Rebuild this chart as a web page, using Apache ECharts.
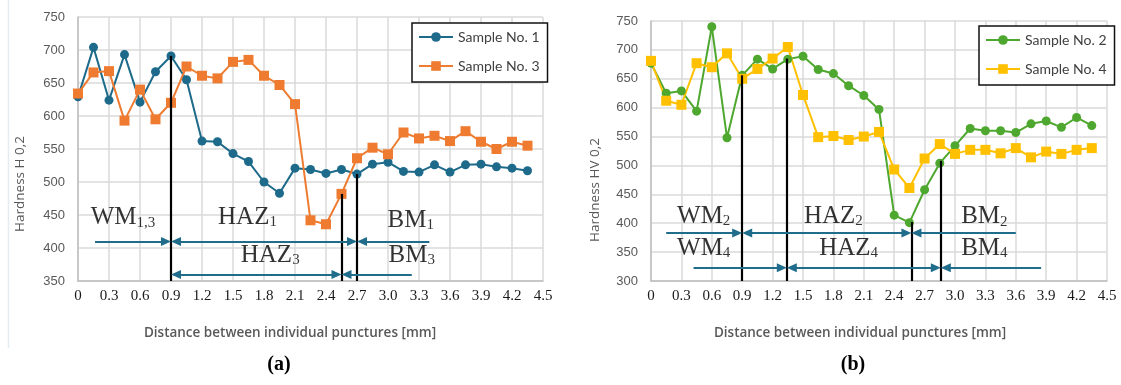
<!DOCTYPE html>
<html>
<head>
<meta charset="utf-8">
<script src="https://cdn.jsdelivr.net/npm/echarts@6/dist/echarts.min.js"></script>
<style>
html,body{margin:0;padding:0;background:#fff;}
#chart{width:1121px;height:385px;}
</style>
</head>
<body>
<div id="chart"></div>
<script>
// ---------- data ----------
const distance = [0,0.15,0.3,0.45,0.6,0.75,0.9,1.05,1.2,1.35,1.5,1.65,1.8,1.95,2.1,2.25,2.4,2.55,2.7,2.85,3.0,3.15,3.3,3.45,3.6,3.75,3.9,4.05,4.2,4.35];
const sample1 = [629,704,624,693,621,667,691,655,562,561,543,531,500,483,521,519,513,519,512,527,530,516,515,526,515,526,527,523,521,517];
const sample3 = [634,666,668,593,640,595,620,675,661,657,682,685,661,647,618,442,436,482,536,552,542,575,566,570,562,577,561,550,561,555];
const sample2 = [677,625,629,594,740,548,656,684,667,684,689,666,659,638,621,597,414,401,458,504,534,564,560,560,557,572,577,566,583,569];
const sample4 = [681,612,605,677,670,694,650,667,685,705,622,549,551,544,550,558,493,461,512,537,520,527,527,521,530,514,524,520,527,530];

const seriesNamesA = ['Sample No. 1','Sample No. 3'];
const seriesNamesB = ['Sample No. 2','Sample No. 4'];
const yTitleA = 'Hardness H 0,2';
const yTitleB = 'Hardness HV 0,2';
const xTitle = 'Distance between individual punctures [mm]';

// zone boundaries: [x, top value]
const boundsA = [[0.9,691],[2.55,482],[2.7,512]];
const boundsB = [[0.9,656],[1.34,685],[2.57,402],[2.86,508]];
// arrows: [x1, x2, y, headAtStart, headAtEnd]
const arrowsA = [[0.165,0.9,410,0,1],[0.9,2.7,410,1,1],[2.7,3.4,410,1,0],[0.9,2.55,360,1,1],[2.55,3.23,360,1,0]];
const arrowsB = [[0.15,0.9,383,0,1],[0.9,2.57,383,1,1],[2.57,3.6,383,1,0],[0.42,1.34,323,0,1],[1.34,2.86,323,1,1],[2.86,3.85,323,1,0]];
// zone labels: [x, y, main, sub]
const zonesA = [[0.435,446,'WM','1,3'],[1.64,447,'HAZ','1'],[1.86,389,'HAZ','3'],[3.22,442,'BM','1'],[3.23,389,'BM','3']];
const zonesB = [[0.52,412,'WM','2'],[0.52,357,'WM','4'],[1.80,412,'HAZ','2'],[1.95,357,'HAZ','4'],[3.29,411,'BM','2'],[3.29,357,'BM','4']];

// ---------- chart ----------
const chart = echarts.init(document.getElementById('chart'), null, {renderer:'canvas'});
const zip = (xs, ys) => xs.map((x,i)=>[x, ys[i]]);
const gridColor = '#dadada';
const arrowColor = '#1f6c8b';
const headLen = 10, headWid = 9;
const grids = [
  {left:78, top:17, width:465, height:264},
  {left:651, top:21, width:456, height:260}
];
const X_MAX = 4.5;

function xAxisCfg(idx){
  return {
    type:'value', gridIndex:idx, min:0, max:X_MAX, interval:0.3,
    axisLine:{show:true, lineStyle:{color:'#bfbfbf', width:1.5}},
    axisTick:{show:false},
    splitLine:{show:true, lineStyle:{color:gridColor, width:1.5}},
    axisLabel:{margin:8, color:'#1a1a1a', fontFamily:'Liberation Serif', fontSize:15,
      formatter:v => (Math.abs(v)<1e-9 ? '0' : (Math.round(v*10)/10).toFixed(1))}
  };
}
function yAxisCfg(idx, min){
  return {
    type:'value', gridIndex:idx, min:min, max:750, interval:50,
    axisLine:{show:true, lineStyle:{color:'#bfbfbf', width:1.5}},
    axisTick:{show:false},
    splitLine:{show:true, lineStyle:{color:gridColor, width:1.5}},
    axisLabel:{margin:13, color:'#595959', fontFamily:'Liberation Sans', fontSize:13}
  };
}
function boundLines(bounds, bottom){
  return bounds.map(b => [
    {coord:[b[0], b[1]], lineStyle:{color:'#000', width:2.2, type:'solid'}},
    {coord:[b[0], bottom]}
  ]);
}
function arrowLines(arrows, idx){
  // arrow symbols are centred on the end point, so pull arrowed ends back by half a head
  const half = (headLen/2) * X_MAX / grids[idx].width;
  return arrows.map(a => {
    const s = a[3] ? a[0] + half : a[0];
    const e = a[4] ? a[1] - half : a[1];
    return [
      {coord:[s,a[2]], symbol: a[3] ? 'triangle':'none', symbolSize:[headWid,headLen],
        lineStyle:{color:arrowColor,width:2,type:'solid'}, itemStyle:{color:arrowColor}},
      {coord:[e,a[2]], symbol: a[4] ? 'triangle':'none', symbolSize:[headWid,headLen]}
    ];
  });
}
function zoneSeries(idx, zones, bounds, arrows, bottom){
  return {
    type:'scatter', xAxisIndex:idx, yAxisIndex:idx, silent:true, symbolSize:0, z:5,
    data: zones.map(z => ({value:[z[0],z[1]], main:z[2], sub:z[3]})),
    label:{show:true, position:'inside',
      formatter: p => '{m|' + p.data.main + '}{s|' + p.data.sub + '}',
      rich:{
        m:{fontFamily:'Liberation Serif', fontSize:25, color:'#000', verticalAlign:'bottom', lineHeight:25},
        s:{fontFamily:'Liberation Serif', fontSize:15, color:'#000', verticalAlign:'bottom', lineHeight:20}
      }},
    markLine:{
      silent:true, symbol:'none', animation:false,
      lineStyle:{type:'solid', color:arrowColor, width:2},
      label:{show:false},
      emphasis:{disabled:true},
      data: boundLines(bounds, bottom).concat(arrowLines(arrows, idx))
    }
  };
}
function lineSeries(name, idx, ys, color, symbol, size){
  return {
    name:name, type:'line', xAxisIndex:idx, yAxisIndex:idx,
    data: zip(distance, ys), symbol:symbol, symbolSize:size, z:3,
    itemStyle:{color:color}, lineStyle:{color:color, width:2}, emphasis:{disabled:true}
  };
}
function legendCfg(names, left, top){
  return {
    data:names, left:left, top:top, orient:'vertical',
    backgroundColor:'#fff', borderColor:'#111', borderWidth:1.5, borderRadius:0,
    padding:[7,8,9,6], itemGap:15, itemWidth:34, itemHeight:12,
    textStyle:{fontFamily:'Lato', fontSize:14, color:'#404040'},
    selectedMode:false
  };
}

const option = {
  animation:false,
  backgroundColor:'#fff',
  grid:grids,
  xAxis:[xAxisCfg(0), xAxisCfg(1)],
  yAxis:[yAxisCfg(0,350), yAxisCfg(1,300)],
  legend:[legendCfg(seriesNamesA, 412, 23), legendCfg(seriesNamesB, 979, 26)],
  series:[
    lineSeries(seriesNamesA[0], 0, sample1, '#1d6a8a', 'circle', 9),
    lineSeries(seriesNamesA[1], 0, sample3, '#ee7b30', 'rect', 10),
    lineSeries(seriesNamesB[0], 1, sample2, '#4ea72e', 'circle', 9),
    lineSeries(seriesNamesB[1], 1, sample4, '#ffc000', 'rect', 10),
    zoneSeries(0, zonesA, boundsA, arrowsA, 350),
    zoneSeries(1, zonesB, boundsB, arrowsB, 300)
  ],
  graphic:[
    {type:'line', shape:{x1:8.5,y1:0,x2:8.5,y2:348}, style:{stroke:'#e4edf3', lineWidth:1.5}, silent:true},
    {type:'text', x:20, y:184, rotation:Math.PI/2, style:{text:yTitleA, fill:'#595959', font:'13.5px "Open Sans"', textAlign:'center', textVerticalAlign:'middle'}},
    {type:'text', x:595, y:190, rotation:Math.PI/2, style:{text:yTitleB, fill:'#595959', font:'13.5px "Open Sans"', textAlign:'center', textVerticalAlign:'middle'}},
    {type:'text', x:290, y:333, style:{text:xTitle, fill:'#595959', font:'600 13.5px "Open Sans"', textAlign:'center', textVerticalAlign:'middle'}},
    {type:'text', x:860, y:333, style:{text:xTitle, fill:'#595959', font:'600 13.5px "Open Sans"', textAlign:'center', textVerticalAlign:'middle'}},
    {type:'text', x:279, y:365, style:{text:'(a)', fill:'#000', font:'bold 20px "Liberation Serif"', textAlign:'center', textVerticalAlign:'middle'}},
    {type:'text', x:853, y:365, style:{text:'(b)', fill:'#000', font:'bold 20px "Liberation Serif"', textAlign:'center', textVerticalAlign:'middle'}}
  ]
};
chart.setOption(option);
</script>
</body>
</html>
